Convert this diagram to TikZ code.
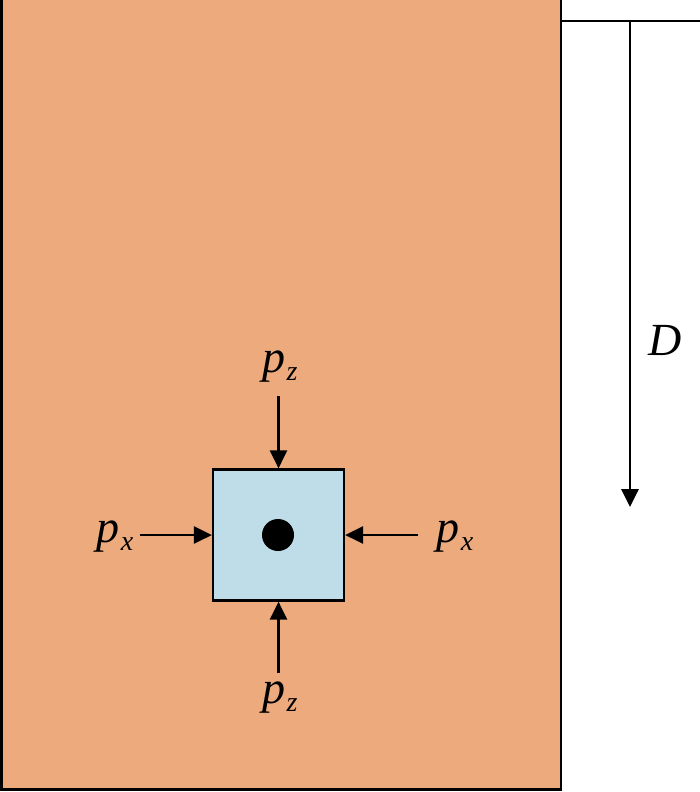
\documentclass[tikz,border=0pt]{standalone}
\usepackage{fontspec}
\setmainfont{Liberation Serif}
\usetikzlibrary{arrows.meta}
\definecolor{soil}{HTML}{EDAB7D}
\definecolor{elem}{HTML}{BEDDE9}
\newcommand{\psub}[1]{p\kern1pt\raisebox{-8pt}{\fontsize{28}{30}\selectfont #1}}
\begin{document}
\begin{tikzpicture}[x=1pt,y=-1pt,
  lbl/.style={font=\fontsize{46}{50}\selectfont\itshape, inner sep=0pt},
  force/.style={line width=2.8pt, -{Triangle[length=18pt,width=17pt]}},
  edge/.style={line width=2.2pt}]
\useasboundingbox (0,0) rectangle (700,792);
\path[fill=soil,draw=black,edge] (1.5,-5) rectangle (561,789.5);
\node[draw=black,fill=elem,edge,minimum width=131pt,minimum height=131pt,inner sep=0pt] (sq) at (278.5,535) {};
\fill (278,535) circle (16pt);
\coordinate (t1) at (561,21);
\coordinate (t2) at (702,21);
\draw[edge] (t1) -- (t2);
\coordinate (ds) at (630,21);
\coordinate (de) at (630,507);
\draw[force] (ds) -- (de);
\node[lbl] (D) at (665,340) {D};
\node[lbl] (pzt) at (280,367) {\psub{z}};
\node[lbl] (pzb) at (280,698) {\psub{z}};
\node[lbl] (pxl) at (115,537) {\psub{x}};
\node[lbl] (pxr) at (455,537) {\psub{x}};
\coordinate (a1) at (278.5,396);
\coordinate (a2) at (278.5,673);
\coordinate (a3) at (140,535);
\coordinate (a4) at (418,535);
\draw[force] (a1) -- (sq.north);
\draw[force] (a2) -- (sq.south);
\draw[force] (a3) -- (sq.west);
\draw[force] (a4) -- (sq.east);
\end{tikzpicture}
\end{document}
